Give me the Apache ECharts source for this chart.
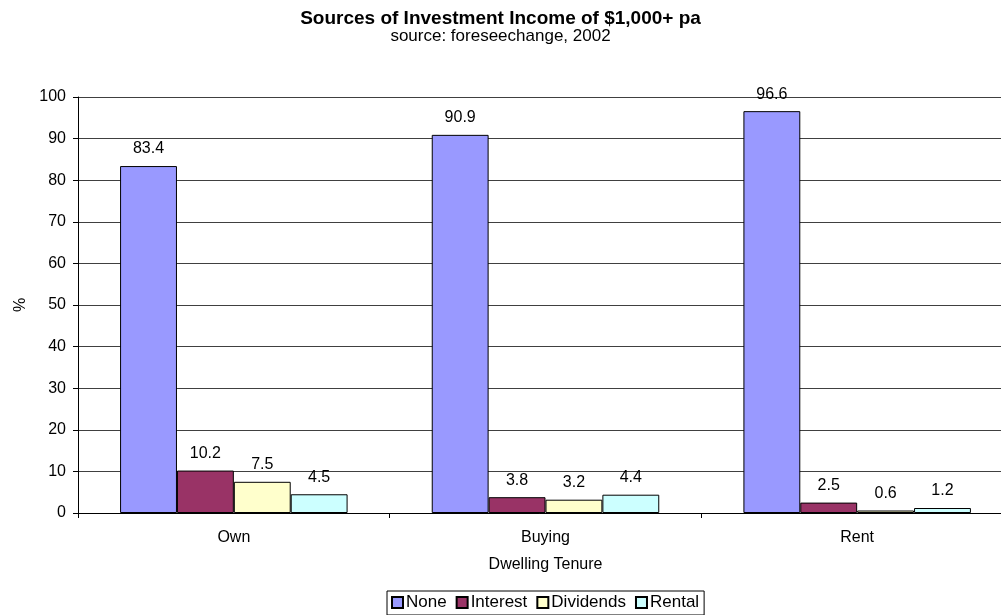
<!DOCTYPE html>
<html>
<head>
<meta charset="utf-8">
<script src="https://cdn.jsdelivr.net/npm/echarts@6/dist/echarts.min.js"></script>
<style>
  html, body { margin: 0; padding: 0; background: #fff; }
  #chart { width: 1001px; height: 615px; }
</style>
</head>
<body>
<div id="chart"></div>
<script>
// Dwelling tenure groups and income-source shares (%)
const categories = ['Own', 'Buying', 'Rent'];
const seriesNames = ['None', 'Interest', 'Dividends', 'Rental'];
const noneValues = [83.4, 90.9, 96.6];
const interestValues = [10.2, 3.8, 2.5];
const dividendsValues = [7.5, 3.2, 0.6];
const rentalValues = [4.5, 4.4, 1.2];
const yTicks = [0, 10, 20, 30, 40, 50, 60, 70, 80, 90, 100];

const colors = ['#9999FF', '#993366', '#FFFFCC', '#CCFFFF'];
const valueSets = [noneValues, interestValues, dividendsValues, rentalValues];
const font = 'Liberation Sans, Arial, sans-serif';
const labelSize = 16;

const chart = echarts.init(document.getElementById('chart'), null, { renderer: 'canvas' });

chart.setOption({
  animation: false,
  backgroundColor: '#fff',
  textStyle: { fontFamily: font, color: '#000' },
  title: {
    text: 'Sources of Investment Income of $1,000+ pa',
    subtext: 'source: foreseechange, 2002',
    left: 'center',
    top: 4,
    itemGap: 0,
    textStyle: { fontSize: 19, fontWeight: 'bold', color: '#000', fontFamily: font },
    subtextStyle: { fontSize: 17, color: '#000', fontFamily: font }
  },
  legend: {
    data: seriesNames,
    icon: 'rect',
    left: 387,
    top: 591,
    orient: 'horizontal',
    itemWidth: 11,
    itemHeight: 11,
    itemGap: 9,
    padding: [3, 5, 4, 4],
    borderColor: '#000',
    borderWidth: 1,
    textStyle: { fontSize: 17, color: '#000', fontFamily: font, padding: [0, 0, 0, -2] }
  },
  grid: {
    left: 78,
    width: 935,
    top: 97,
    bottom: 102,
    outerBoundsMode: 'none',
    containLabel: false
  },
  xAxis: {
    type: 'category',
    data: categories,
    boundaryGap: true,
    name: 'Dwelling Tenure',
    nameLocation: 'middle',
    nameGap: 44,
    nameTextStyle: { fontSize: labelSize, color: '#000', fontFamily: font },
    axisLine: { show: true, lineStyle: { color: '#000', width: 1 } },
    axisTick: { show: true, length: 5, inside: false, lineStyle: { color: '#000' } },
    axisLabel: { fontSize: labelSize, color: '#000', margin: 17, fontFamily: font },
    splitLine: { show: false }
  },
  yAxis: {
    type: 'value',
    min: yTicks[0],
    max: yTicks[yTicks.length - 1],
    interval: yTicks[1] - yTicks[0],
    name: '%',
    nameLocation: 'middle',
    nameGap: 47,
    nameRotate: 90,
    nameTextStyle: { fontSize: labelSize, color: '#000', fontFamily: font },
    axisLine: { show: true, lineStyle: { color: '#000', width: 1 } },
    axisTick: { show: true, length: 5, lineStyle: { color: '#000' } },
    axisLabel: { fontSize: labelSize, color: '#000', margin: 12, fontFamily: font },
    splitLine: { show: true, lineStyle: { color: '#404040', width: 1 } }
  },
  series: seriesNames.map((name, i) => ({
    name: name,
    type: 'bar',
    data: valueSets[i],
    barGap: '0%',
    barCategoryGap: '27%',
    itemStyle: { color: colors[i], borderColor: '#000', borderWidth: 1 },
    label: {
      show: true,
      position: 'top',
      distance: 9,
      fontSize: labelSize,
      color: '#000',
      fontFamily: font
    }
  }))
});
</script>
</body>
</html>
